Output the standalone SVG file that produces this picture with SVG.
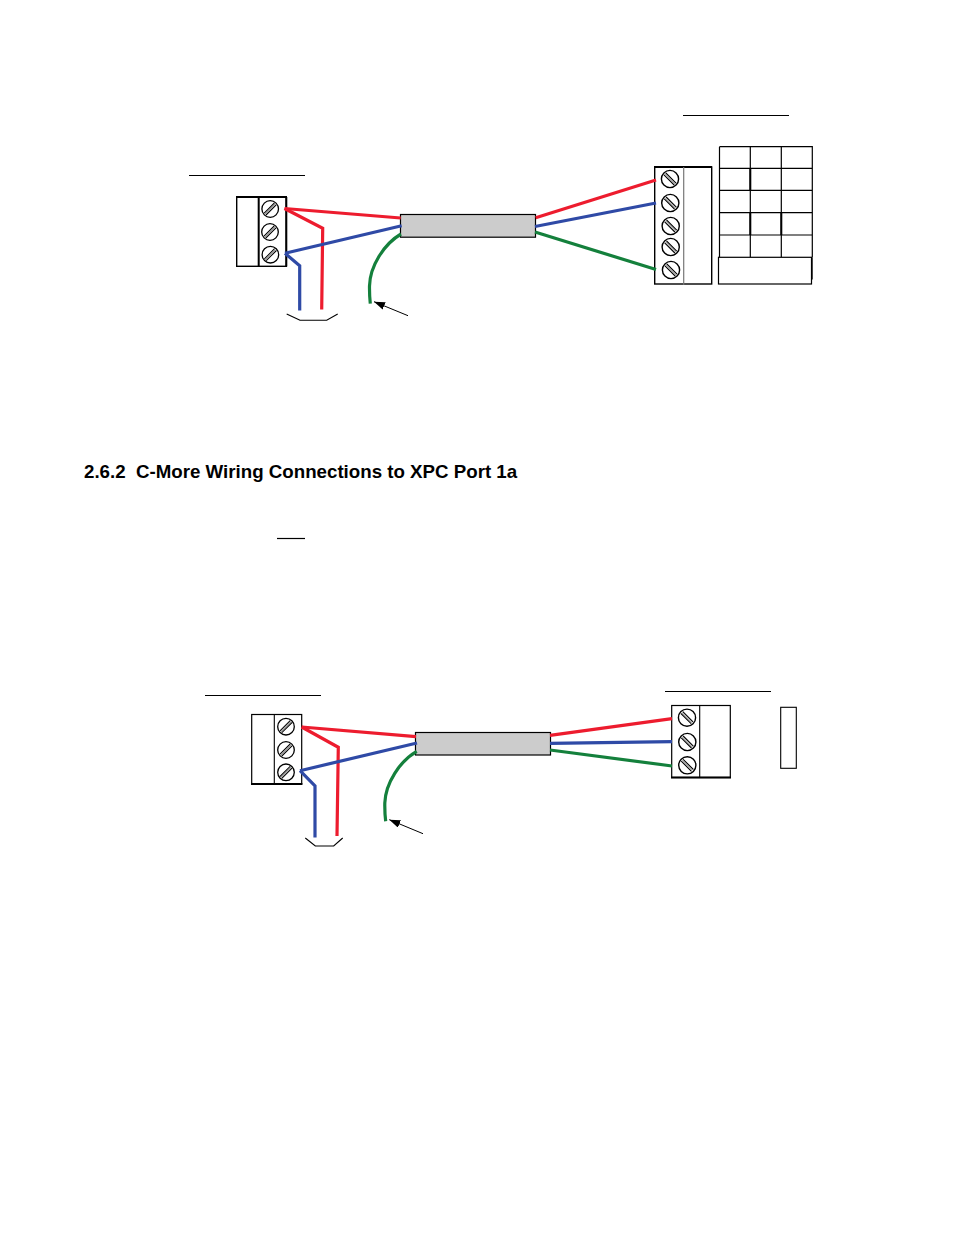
<svg xmlns="http://www.w3.org/2000/svg" width="954" height="1235" viewBox="0 0 954 1235">
<style>
.box{fill:#fff;stroke:#000;stroke-width:1.4}
.cable{fill:#ccc;stroke:#000;stroke-width:1.2}
.rule{stroke:#000;stroke-width:1.2;fill:none}
.thin{stroke:#000;stroke-width:1;fill:none}
.w{fill:none;stroke-width:3.2;stroke-linejoin:miter}
.r{stroke:#ed1c2e}.b{stroke:#2f4aa6}.g{stroke:#14803c}
.head{font-family:"Liberation Sans",Arial,sans-serif;font-weight:700;font-size:18.72px;fill:#000;white-space:pre}
</style>
<defs>
<g id="sL"><circle r="8.3" fill="#fff" stroke="#000" stroke-width="1.3"/><path d="M-6,4.2L4.2,-6M-4.2,6L6,-4.2" stroke="#000" stroke-width="1.1" fill="none"/><path d="M-5,5L5,-5" stroke="#999" stroke-width="1.6"/></g>
<g id="sR"><circle r="8.6" fill="#fff" stroke="#000" stroke-width="1.4"/><path d="M-6,-4.2L4.2,6M-4.2,-6L6,4.2" stroke="#000" stroke-width="1.2" fill="none"/><path d="M-5,-5L5,5" stroke="#aaa" stroke-width="1.4"/></g>
<marker id="ah" markerUnits="userSpaceOnUse" markerWidth="12" markerHeight="9" refX="11" refY="4" orient="auto"><path d="M0,0L11,4L0,8Z" fill="#000"/></marker>
</defs>

<text class="head" x="84" y="478">2.6.2  C-More Wiring Connections to XPC Port 1a</text>
<path class="rule" d="M277,538.5H305"/>

<g id="label-rule-left-1"><path class="rule" d="M189,175.5H305"/></g>
<g id="label-rule-right-1"><path class="rule" d="M683,115.5H789"/></g>
<g id="label-rule-left-2"><path class="rule" d="M205,695.5H321"/></g>
<g id="label-rule-right-2"><path class="rule" d="M665,691.5H771"/></g>

<g id="block-left-1">
<rect class="box" x="236.7" y="197" width="49.6" height="69.3"/>
<path d="M236,197H287M286.3,197V266.5M258.7,197V266" stroke="#000" stroke-width="2" fill="none"/>
<use href="#sL" x="270.2" y="209"/><use href="#sL" x="270" y="232"/><use href="#sL" x="270.4" y="254.7"/>
</g>
<g id="cable-1"><rect class="cable" x="400.5" y="214.5" width="135" height="22.7"/></g>
<g id="block-right-1">
<rect class="box" x="654.7" y="167" width="57" height="117"/>
<path d="M654,167H712" stroke="#000" stroke-width="2"/>
<path d="M683.7,167V285" stroke="#777" stroke-width="1.2"/>
<use href="#sR" x="670" y="179"/><use href="#sR" x="670.3" y="203"/><use href="#sR" x="670.7" y="226"/><use href="#sR" x="670.7" y="247"/><use href="#sR" x="671" y="270"/>
</g>
<g id="grid-1">
<path class="thin" style="stroke-width:1.2" d="M719.5,146.7H812.3V257.3M719.5,146.7V257.3M750.3,146.7V257.3M781.3,146.7V257.3M719.5,168.3H812.3M719.5,190.3H812.3M719.5,212.7H812.3M719.5,235H812.3"/>
<path d="M750.3,168.3V190.3M750.3,212.7V235M781.3,212.7V235" stroke="#000" stroke-width="2" fill="none"/>
<rect class="box" style="stroke-width:1.2" x="718.5" y="257.3" width="93" height="26.7"/>
<path d="M812,257.3V279.5" stroke="#000" stroke-width="1.4"/>
</g>

<g id="block-left-2">
<rect class="box" style="stroke-width:1.2" x="251.7" y="714.5" width="50" height="69.3"/>
<path d="M251,784H302.4" stroke="#000" stroke-width="2"/>
<path d="M274.3,714.5V784" stroke="#000" stroke-width="1.1"/>
<use href="#sL" x="286" y="726.7"/><use href="#sL" x="286" y="750"/><use href="#sL" x="286" y="772.3"/>
</g>
<g id="cable-2"><rect class="cable" x="415.5" y="732.5" width="135" height="22.5"/></g>
<g id="block-right-2">
<rect class="box" style="stroke-width:1.2" x="671.7" y="705.5" width="58.6" height="72"/>
<path d="M671,777.6H731" stroke="#000" stroke-width="2"/>
<path d="M699.7,705.5V777" stroke="#000" stroke-width="1.1"/>
<use href="#sR" x="687" y="717.7"/><use href="#sR" x="687.3" y="742"/><use href="#sR" x="687.3" y="765.3"/>
</g>
<g id="box-2"><rect class="box" style="stroke-width:1.1" x="780.7" y="707.3" width="15.6" height="61"/></g>

<g id="connectors">
<path class="w r" d="M284.5,208.5L400.7,218"/>
<path class="w r" d="M284.5,208.5L322.7,228.3L321.7,309.5"/>
<path class="w b" d="M285,253.3L401.7,225.7"/>
<path class="w b" d="M285,253.3L299.7,265.7V310.5"/>
<path class="w g" d="M401,234C384,244 370,266 369.5,286C369.4,293 369.7,298 370.3,303.7"/>
<path class="thin" d="M408,315.7L374,301.7" marker-end="url(#ah)"/>
<path class="thin" style="stroke-width:1.1" d="M286.7,314L300,320.3H326.7L337.7,314"/>
<path class="w r" d="M535.7,217.7L656,180"/>
<path class="w b" d="M535,226.5L656,203"/>
<path class="w g" d="M535,232L656,269.5"/>

<path class="w r" d="M301.7,727L416,736.7"/>
<path class="w r" d="M301.7,727L338.3,747.3L337,836"/>
<path class="w b" d="M300,770.7L417,743"/>
<path class="w b" d="M300,770.7L315,786V837.5"/>
<path class="w g" d="M416.7,751.3C400,761 385.5,783 384.8,803C384.7,810 385,816 385.7,821.3"/>
<path class="thin" d="M423,833.7L389.3,819.7" marker-end="url(#ah)"/>
<path class="thin" style="stroke-width:1.1" d="M305.3,838L315.3,846H333.7L342.7,838"/>
<path class="w r" d="M550,735.3L672,718.7"/>
<path class="w b" d="M550,743.3L672,741.7"/>
<path class="w g" d="M550,750L672,766"/>
</g>
</svg>
